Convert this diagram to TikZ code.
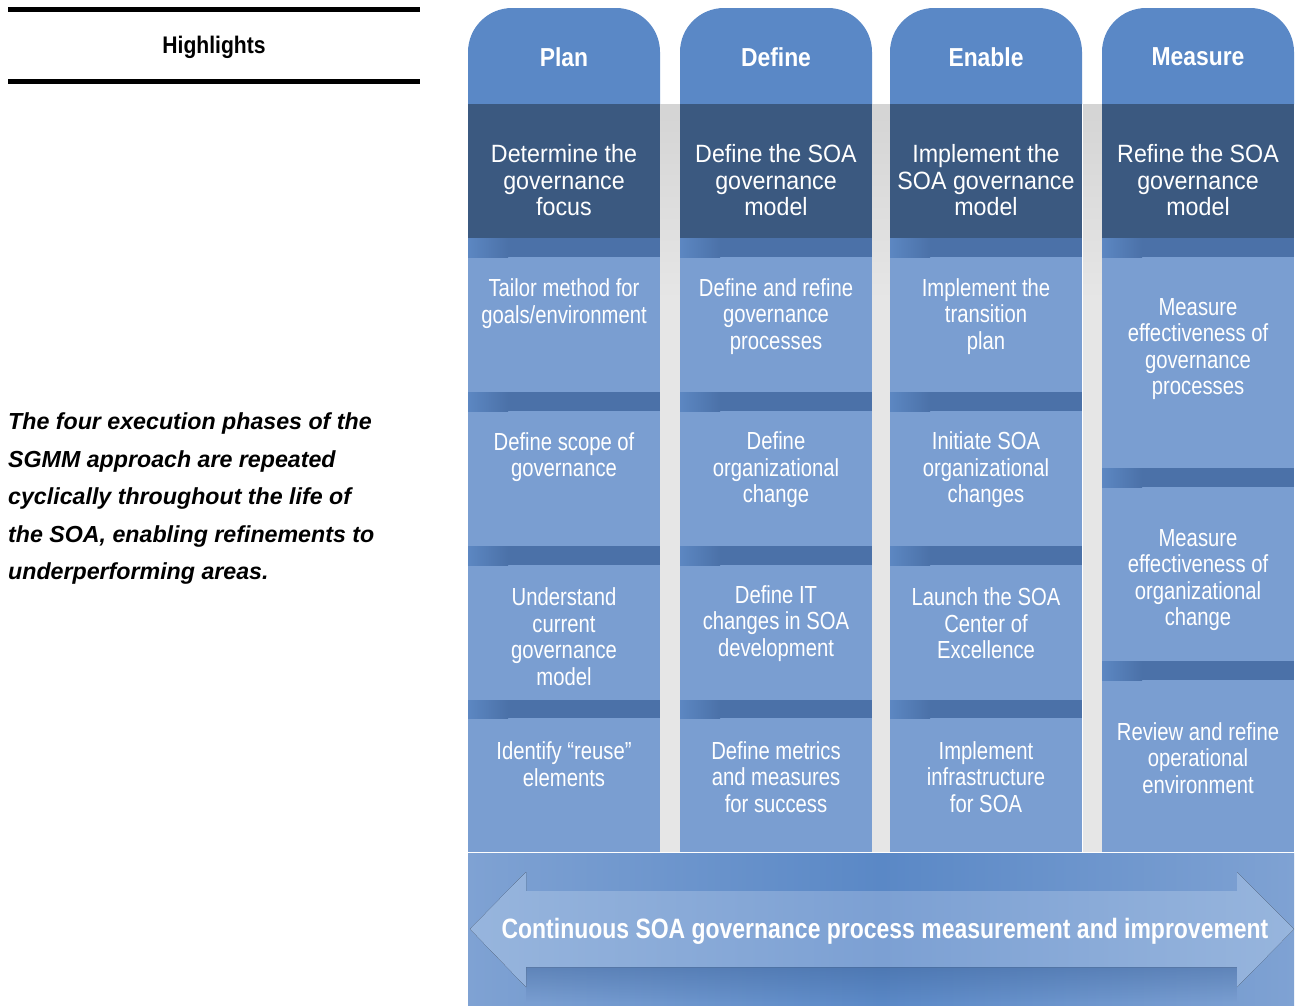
\documentclass[tikz,border=0pt]{standalone}
\usepackage{fontspec}
\usetikzlibrary{fadings}
\setmainfont{Liberation Sans}
\newfontfamily\lightf[FakeStretch=0.82]{Liberation Sans}
\newfontfamily\darkf[FakeStretch=0.93]{Liberation Sans}
\newfontfamily\headf[FakeStretch=0.88]{Liberation Sans}
\newfontfamily\hlf[FakeStretch=0.88]{Liberation Sans}
\newfontfamily\botf[FakeStretch=0.82]{Liberation Sans}
\definecolor{hdr}{HTML}{5A88C6}
\definecolor{darkb}{HTML}{3B5980}
\definecolor{cellc}{HTML}{7A9ED1}
\definecolor{sepc}{HTML}{4B71A8}
\definecolor{sepl}{HTML}{5C87C2}
\definecolor{gapt}{HTML}{D4D4D4}
\definecolor{gapb}{HTML}{E6E6E6}
\definecolor{bandedge}{HTML}{7FA2D3}
\definecolor{bandmid}{HTML}{5A88C6}
\definecolor{arredge}{HTML}{97B5DD}
\definecolor{arrmid}{HTML}{7CA0D3}
\definecolor{shadowc}{HTML}{3F659C}
\tikzset{
  hdrtxt/.style={text=white, inner sep=0, font=\headf\bfseries\fontsize{26}{28}\selectfont},
  dtxt/.style={text=white, align=center, inner sep=0, font=\darkf\fontsize{25}{26.5}\selectfont},
  ltxt/.style={text=white, align=center, inner sep=0, font=\lightf\fontsize{24.7}{26.5}\selectfont},
  blackrule/.style={line width=5pt, black},
}
\begin{document}
\begin{tikzpicture}[x=1pt,y=-1pt]
\useasboundingbox (0,0) rectangle (1298,1005);
% left side
\draw[blackrule] (8,9.5) -- (420,9.5);
\draw[blackrule] (8,81.5) -- (420,81.5);
\node[inner sep=0, font=\hlf\bfseries\fontsize{24}{26}\selectfont] (hl) at (214,47.5) {Highlights};
\node[anchor=west, align=left, inner sep=0, font=\bfseries\itshape\fontsize{23.2}{37.5}\selectfont] (para) at (8,498.6)
 {The four execution phases of the\\SGMM approach are repeated\\cyclically throughout the life of\\the SOA, enabling refinements to\\underperforming areas.};
% gaps
\foreach \a/\b in {660/680, 872/890, 1083/1102}{
  \fill[top color=gapt, bottom color=gapb] (\a,104) rectangle (\b,300);
  \fill[gapb] (\a,299) rectangle (\b,852);
}
% columns
\foreach \x in {468,680,890,1102}{
  \fill[hdr, rounded corners=44] (\x,8) rectangle ++(192,140);
  \fill[darkb] (\x,104) rectangle ++(192,134);
  \fill[cellc] (\x,238) rectangle ++(192,614);
}
\foreach \x in {468,680,890}{
  \foreach \ya/\yb in {238/257, 392/411, 546/565, 700/718}{
    \fill[sepc] (\x,\ya) rectangle (\x+192,\yb);
    \fill[left color=sepl, right color=sepc] (\x,\ya) rectangle (\x+40,\yb);
  }
}
\foreach \ya/\yb in {238/257, 468/487, 661/680}{
  \fill[sepc] (1102,\ya) rectangle (1294,\yb);
  \fill[left color=sepl, right color=sepc] (1102,\ya) rectangle (1142,\yb);
}
% headers
\node[hdrtxt] (h1) at (564,57) {Plan};
\node[hdrtxt] (h2) at (776,57) {Define};
\node[hdrtxt] (h3) at (986,57) {Enable};
\node[hdrtxt] (h4) at (1198,57) {Measure};
% dark band
\node[dtxt] (d1) at (564,180.5) {Determine the\\governance\\focus};
\node[dtxt] (d2) at (776,180.5) {Define the SOA\\governance\\model};
\node[dtxt] (d3) at (986,180.5) {Implement the\\SOA governance\\model};
\node[dtxt] (d4) at (1198,180.5) {Refine the SOA\\governance\\model};
% column 1
\node[ltxt] (c11) at (564,303.5) {Tailor method for\\goals/environment};
\node[ltxt] (c12) at (564,457) {Define scope of\\governance};
\node[ltxt] (c13) at (564,636.5) {Understand\\current\\governance\\model};
\node[ltxt] (c14) at (564,764) {Identify “reuse”\\elements};
% column 2
\node[ltxt] (c21) at (776,316.5) {Define and refine\\governance\\processes};
\node[ltxt] (c22) at (776,470) {Define\\organizational\\change};
\node[ltxt] (c23) at (776,623.5) {Define IT\\changes in SOA\\development};
\node[ltxt] (c24) at (776,777) {Define metrics\\and measures\\for success};
% column 3
\node[ltxt] (c31) at (986,316.5) {Implement the\\transition\\plan};
\node[ltxt] (c32) at (986,470) {Initiate SOA\\organizational\\changes};
\node[ltxt] (c33) at (986,623.5) {Launch the SOA\\Center of\\Excellence};
\node[ltxt] (c34) at (986,777) {Implement\\infrastructure\\for SOA};
% column 4
\node[ltxt] (c41) at (1198,349) {Measure\\effectiveness of\\governance\\processes};
\node[ltxt] (c42) at (1198,580) {Measure\\effectiveness of\\organizational\\change};
\node[ltxt] (c43) at (1198,758) {Review and refine\\operational\\environment};
% bottom band
\fill[left color=bandedge, right color=bandedge, middle color=bandmid] (468,853) rectangle (1294,1005);
\fill[shadowc, opacity=0.45, path fading=south] (526,967) rectangle (1237,1002);
\draw[white, line width=1.5pt] (468,852.5) -- (1294,852.5);
\fill[left color=arredge, right color=arredge, middle color=arrmid]
  (470,929) -- (526,872) -- (526,891) -- (1237,891) -- (1237,872) -- (1294,929)
  -- (1237,987) -- (1237,967) -- (526,967) -- (526,987) -- cycle;
\node[text=white, inner sep=0, font=\botf\bfseries\fontsize{28}{30}\selectfont] (cont) at (885,931)
  {Continuous SOA governance process measurement and improvement};
\end{tikzpicture}
\end{document}
